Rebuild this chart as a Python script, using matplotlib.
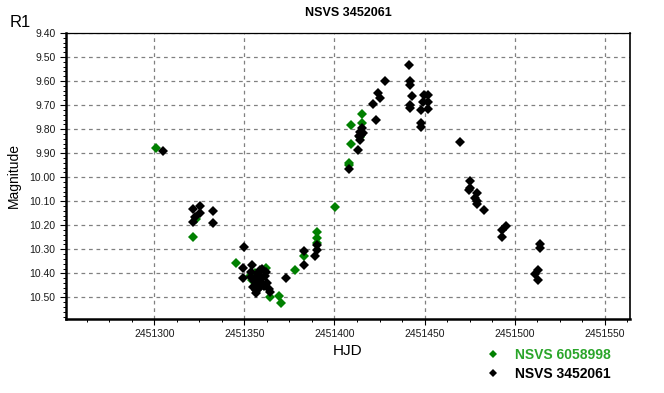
import matplotlib.pyplot as plt
from matplotlib.ticker import MultipleLocator, FormatStrFormatter
import numpy as np

plt.rcParams['font.family'] = ['Liberation Sans', 'DejaVu Sans']

# comparison star NSVS 6058998 (green)
hjd_cmp = [2451300.8, 2451323.2, 2451321.3, 2451345.2, 2451354.1, 2451362.1,
           2451364.3, 2451369.1, 2451370.2, 2451378.0, 2451383.0, 2451390.2,
           2451390.2, 2451390.2, 2451400.2, 2451408.2, 2451408.2, 2451409.1,
           2451409.1, 2451415.4, 2451415.4, 2451414.3, 2451356.0, 2451353.0]
mag_cmp = [9.877, 10.175, 10.247, 10.356, 10.428, 10.377,
           10.497, 10.493, 10.522, 10.386, 10.328, 10.227,
           10.254, 10.272, 10.122, 9.939, 9.950, 9.860,
           9.781, 9.735, 9.774, 9.833, 10.400, 10.410]

# variable NSVS 3452061 (black)
hjd_var = [2451304.7, 2451321.3, 2451325.4, 2451325.4, 2451322.6, 2451321.7,
           2451332.6, 2451332.6, 2451349.8, 2451349.1, 2451349.1, 2451354.1,
           2451353.6, 2451353.6, 2451356.5, 2451358.7, 2451359.6, 2451362.1,
           2451361.5, 2451356.9, 2451358.7, 2451356.5, 2451356.5, 2451361.0,
           2451363.9, 2451364.3, 2451373.2, 2451383.0, 2451383.0, 2451389.1,
           2451390.2, 2451390.2, 2451355.5, 2451357.5, 2451359.0, 2451360.0,
           2451355.0, 2451357.8, 2451362.5, 2451358.0,
           2451408.2, 2451413.2, 2451413.9, 2451415.2, 2451414.7, 2451414.3,
           2451415.8, 2451413.5, 2451423.2, 2451421.3, 2451428.2, 2451424.4,
           2451425.0, 2451441.5, 2451442.0, 2451442.0, 2451443.0, 2451442.0,
           2451442.0, 2451449.4, 2451451.9, 2451449.1, 2451451.9, 2451448.0,
           2451452.1, 2451448.0, 2451448.0, 2451469.8, 2451475.0, 2451475.0,
           2451474.4, 2451479.1, 2451478.2, 2451479.1, 2451479.1, 2451483.0,
           2451495.4, 2451493.0, 2451493.0, 2451514.3, 2451514.3, 2451513.0,
           2451511.1, 2451513.0]
mag_var = [9.893, 10.131, 10.118, 10.150, 10.167, 10.185,
           10.139, 10.189, 10.289, 10.378, 10.420, 10.364,
           10.393, 10.417, 10.417, 10.386, 10.382, 10.393,
           10.411, 10.442, 10.456, 10.470, 10.481, 10.453,
           10.464, 10.478, 10.420, 10.306, 10.365, 10.327,
           10.303, 10.282, 10.430, 10.400, 10.420, 10.440,
           10.455, 10.465, 10.440, 10.435,
           9.965, 9.886, 9.810, 9.796, 9.824, 9.845,
           9.817, 9.830, 9.764, 9.696, 9.599, 9.650,
           9.671, 9.532, 9.601, 9.618, 9.661, 9.699,
           9.713, 9.657, 9.657, 9.689, 9.689, 9.722,
           9.715, 9.775, 9.792, 9.852, 10.014, 10.046,
           10.053, 10.064, 10.088, 10.097, 10.113, 10.136,
           10.203, 10.220, 10.247, 10.278, 10.293, 10.386,
           10.403, 10.428]

fig = plt.figure(figsize=(6.64, 3.93), dpi=100)
ax = fig.add_axes([66 / 664, 1 - 319 / 393, 564 / 664, 286 / 393])

ax.plot(hjd_cmp, mag_cmp, 'D', color='#008000', ms=5, mew=0, label='NSVS 6058998')
ax.plot(hjd_var, mag_var, 'D', color='black', ms=5, mew=0, label='NSVS 3452061')

ax.set_xlim(2451251, 2451564)
ax.set_ylim(10.59, 9.40)
ax.xaxis.set_major_locator(MultipleLocator(50))
ax.xaxis.set_minor_locator(MultipleLocator(12.5))
ax.xaxis.set_major_formatter(FormatStrFormatter('%d'))
ax.yaxis.set_major_locator(MultipleLocator(0.1))
ax.yaxis.set_minor_locator(MultipleLocator(0.02))
ax.yaxis.set_major_formatter(FormatStrFormatter('%.2f'))

ax.grid(True, which='major', color='#808080', linestyle=(0, (3, 3)), linewidth=0.9)
ax.tick_params(which='major', length=4, width=0.8, labelsize=7.5, labelcolor='#1a1a1a')
ax.tick_params(which='minor', length=2.5, width=0.7)

for side in ['left', 'bottom']:
    ax.spines[side].set_linewidth(1.8)
ax.spines['top'].set_linewidth(0.9)
ax.spines['right'].set_linewidth(1.2)

ax.set_title('NSVS 3452061', fontsize=9, fontweight='bold', pad=12)
ax.set_xlabel('HJD', fontsize=11, labelpad=3)
ax.set_ylabel('Magnitude', fontsize=10, labelpad=6)
fig.text(10 / 664, 1 - 27 / 393, 'R1', fontsize=12)

leg = ax.legend(loc='upper left', bbox_to_anchor=(486 / 664, 1 - 348 / 393),
                bbox_transform=fig.transFigure, frameon=False, borderpad=0,
                borderaxespad=0, handlelength=1.0, handletextpad=1.1,
                labelspacing=0.35, prop={'size': 10, 'weight': 'bold'},
                labelcolor=['#2aa52a', 'black'], markerscale=0.85)

fig.savefig('out.png', dpi=100)
